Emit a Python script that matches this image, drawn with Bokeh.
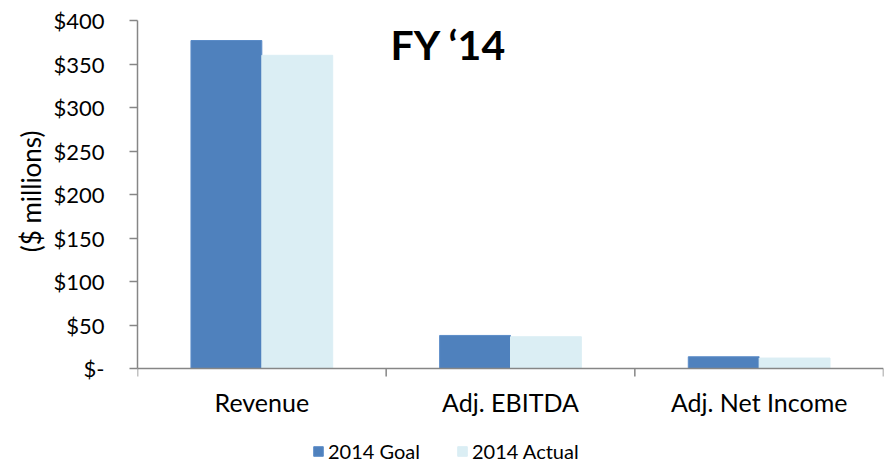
import math
from bokeh.plotting import figure
from bokeh.models import (Range1d, FixedTicker, Legend, LegendItem, Label,
                          ColumnDataSource, Span, Title)
from bokeh.core.properties import value
from bokeh.transform import dodge
from bokeh.embed import file_html
from bokeh.resources import INLINE

# ---- data ----
categories = ["Revenue", "Adj. EBITDA", "Adj. Net Income"]
goal_2014 = [377, 38, 13.5]
actual_2014 = [360, 36.5, 12]
series_names = ["2014 Goal", "2014 Actual"]
y_ticks = [0, 50, 100, 150, 200, 250, 300, 350, 400]
y_tick_labels = ["$-", "$50", "$100", "$150", "$200", "$250", "$300", "$350", "$400"]
y_axis_title = "($ millions)"
title_text = "FY \u201814"

FONT = "Lato"
GOAL_COLOR = "#4F81BD"
ACTUAL_COLOR = "#DBEEF4"
AXIS_COLOR = "#868686"

W, H = 884, 463
TOP, ZERO_Y = 20, 368          # pixel rows of the $400 and $0 lines
y_max = max(y_ticks)
y_min = -y_max * (H - ZERO_Y) / (ZERO_Y - TOP)   # room below zero for labels/legend

x_centers = [i + 0.5 for i in range(len(categories))]
boundaries = list(range(len(categories) + 1))
source = ColumnDataSource(dict(x=x_centers, goal=goal_2014, actual=actual_2014,
                               cat=categories, zero=[0] * len(categories)))
bsource = ColumnDataSource(dict(x=boundaries, zero=[0] * len(boundaries)))

p = figure(width=W, height=H,
           x_range=Range1d(0, len(categories)),
           y_range=Range1d(y_min, y_max),
           x_axis_location=None,
           output_backend="svg", toolbar_location=None,
           min_border_left=137, min_border_right=1,
           min_border_top=TOP, min_border_bottom=0)
p.outline_line_color = None
p.xgrid.visible = False
p.ygrid.visible = False
p.background_fill_color = "white"
p.border_fill_color = "white"

bw = 0.285
r_goal = p.vbar(x=dodge("x", -bw / 2), top="goal", width=bw, source=source,
                fill_color=GOAL_COLOR, line_color="#5B8CC8", line_width=1)
r_act = p.vbar(x=dodge("x", bw / 2), top="actual", width=bw, source=source,
               fill_color=ACTUAL_COLOR, line_color="#DBEEF4", line_width=1)

# ---- category (x) axis: baseline, boundary ticks, labels ----
p.add_layout(Span(location=0, dimension="width", line_color=AXIS_COLOR, line_width=1.5))
p.ray(x="x", y="zero", length=8, length_units="screen", angle=-math.pi / 2,
      source=bsource, line_color=AXIS_COLOR, line_width=1.5)
p.text(x="x", y="zero", text="cat", source=source, y_offset=18,
       text_align="center", text_baseline="top", text_font=value(FONT),
       text_font_size="25px", text_color="black")

# ---- y axis ----
ya = p.yaxis[0]
ya.bounds = (0, y_max)
ya.ticker = FixedTicker(ticks=y_ticks)
ya.major_label_overrides = {t: l for t, l in zip(y_ticks, y_tick_labels)}
ya.major_tick_out = 8
ya.major_tick_in = 0
ya.minor_tick_out = 0
ya.minor_tick_in = 0
ya.major_tick_line_color = AXIS_COLOR
ya.major_tick_line_width = 1.5
ya.axis_line_color = AXIS_COLOR
ya.axis_line_width = 1.5
ya.major_label_text_font = FONT
ya.major_label_text_font_size = "22px"
ya.major_label_text_color = "black"
ya.major_label_standoff = 25

# y-axis title, placed with a side title so it can sit beside the 0..400 span
p.add_layout(Title(text=y_axis_title, align="right", offset=130 - TOP,
                   text_font=FONT, text_font_size="26px",
                   text_font_style="normal", text_color="black", standoff=7),
             "left")

# ---- chart title label ----
p.add_layout(Label(x=253, y=H - 44, x_units="screen", y_units="screen",
                   text=title_text, text_font=FONT, text_font_size="41px",
                   text_font_style="bold", text_color="black",
                   text_baseline="alphabetic"))

# ---- legend ----
legend = Legend(items=[LegendItem(label=series_names[0], renderers=[r_goal]),
                       LegendItem(label=series_names[1], renderers=[r_act])],
                location=(175, 0), orientation="horizontal",
                glyph_width=12, glyph_height=12, label_standoff=4, spacing=36,
                padding=0, margin=0, border_line_color=None,
                background_fill_alpha=0,
                label_text_font=FONT, label_text_font_size="20px",
                label_text_color="black")
p.add_layout(legend, "center")

open("out.html", "w").write(file_html(p, INLINE))
